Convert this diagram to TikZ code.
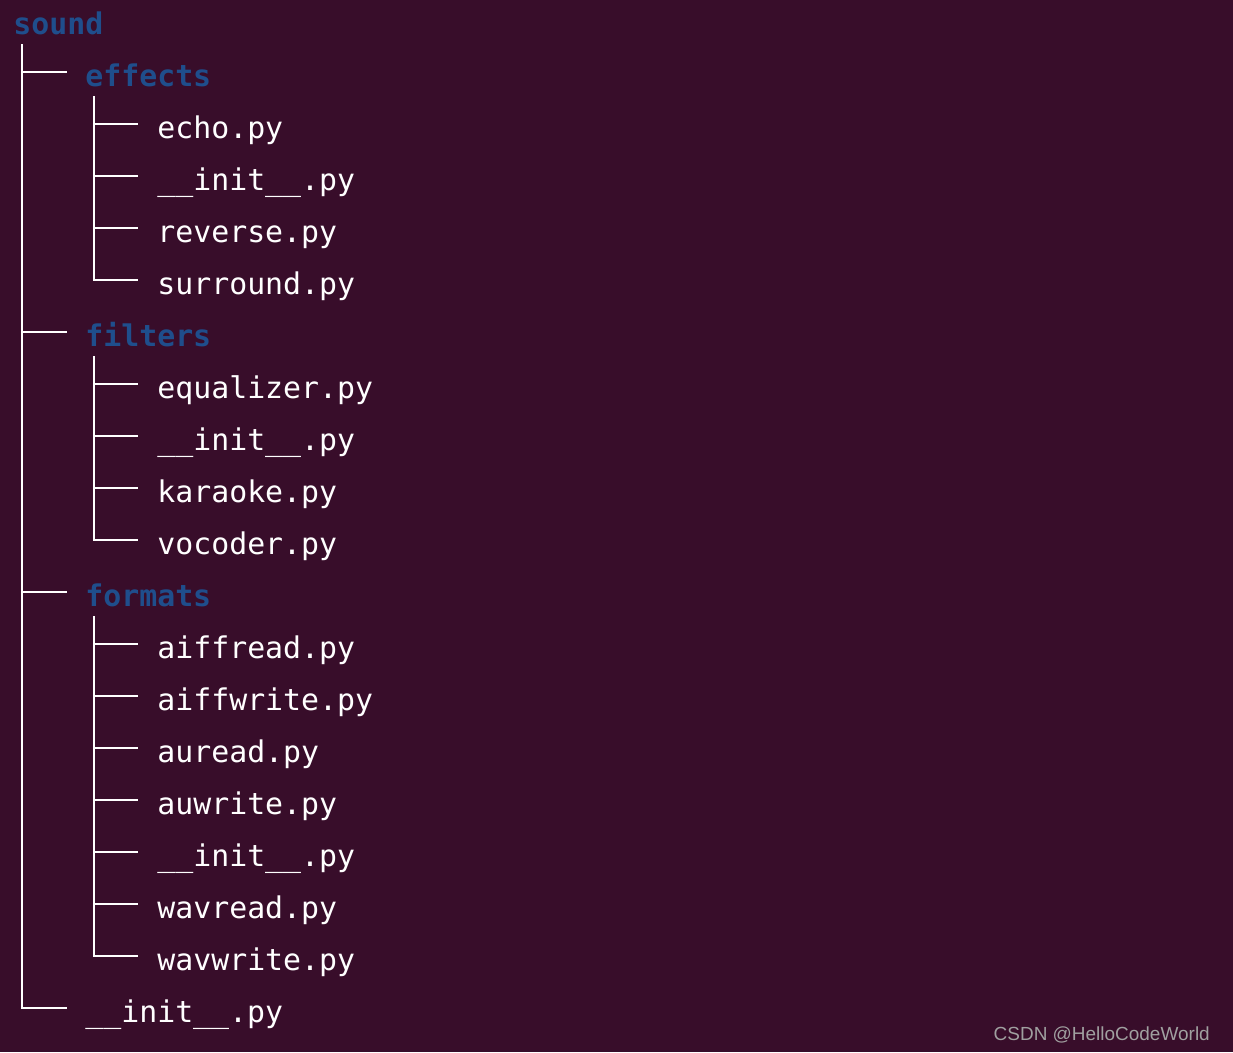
\documentclass[tikz,border=0pt]{standalone}
\usepackage{fontspec}
\newfontfamily\termfont{DejaVu Sans Mono}
\newfontfamily\markfont{Liberation Sans}
\usetikzlibrary{calc}
\definecolor{termbg}{HTML}{380D2A}
\definecolor{dirblue}{HTML}{1F4E8C}
\definecolor{markgray}{HTML}{A0A0A0}

\begin{document}
\begin{tikzpicture}[x=0.02cm, y=-0.02cm,
  entry/.style={
    anchor=base west,
    inner sep=0pt,
    font=\termfont\fontsize{17}{20}\selectfont,
  },
  dir/.style={entry, text=dirblue, font=\termfont\bfseries\fontsize{17}{20}\selectfont},
  file/.style={entry, text=white},
  tree/.style={draw=white, line width=1.1pt}]
  \useasboundingbox (0,0) rectangle (1233,1052);
  \fill[termbg] (0,0) rectangle (1233,1052);
  \node[dir] (sound) at (13,34) {sound};
  % first level
  \foreach \i/\n/\t in
  {1/effects/effects, 6/filters/filters, 11/formats/formats}
  {
    \node[dir] (\n) at (85,34+52*\i) {\t};
    \draw[tree] ($(sound.base west)+(9,10)$) |- ($(\n.base west)+(-18,-14)$);
  }
  \node[file] (sinit) at (85,34+52*19) {\_\_init\_\_.py};
  \draw[tree] ($(sound.base west)+(9,10)$) |- ($(sinit.base west)+(-18,-14)$);
  % second level
  \foreach \i/\n/\t/\p in
  {2/echo/echo.py/effects, 3/einit/\_\_init\_\_.py/effects,
   4/reverse/reverse.py/effects, 5/surround/surround.py/effects,
   7/equalizer/equalizer.py/filters, 8/finit/\_\_init\_\_.py/filters,
   9/karaoke/karaoke.py/filters, 10/vocoder/vocoder.py/filters,
   12/aiffread/aiffread.py/formats, 13/aiffwrite/aiffwrite.py/formats,
   14/auread/auread.py/formats, 15/auwrite/auwrite.py/formats,
   16/tinit/\_\_init\_\_.py/formats, 17/wavread/wavread.py/formats,
   18/wavwrite/wavwrite.py/formats}
  {
    \node[file] (\n) at (157,34+52*\i) {\t};
    \draw[tree] ($(\p.base west)+(9,10)$) |- ($(\n.base west)+(-19,-14)$);
  }
  \node[font=\markfont\fontsize{10.8}{13}\selectfont, text=markgray, anchor=base east]
    (mark) at (1216,1040) {CSDN @HelloCodeWorld};
\end{tikzpicture}
\end{document}
